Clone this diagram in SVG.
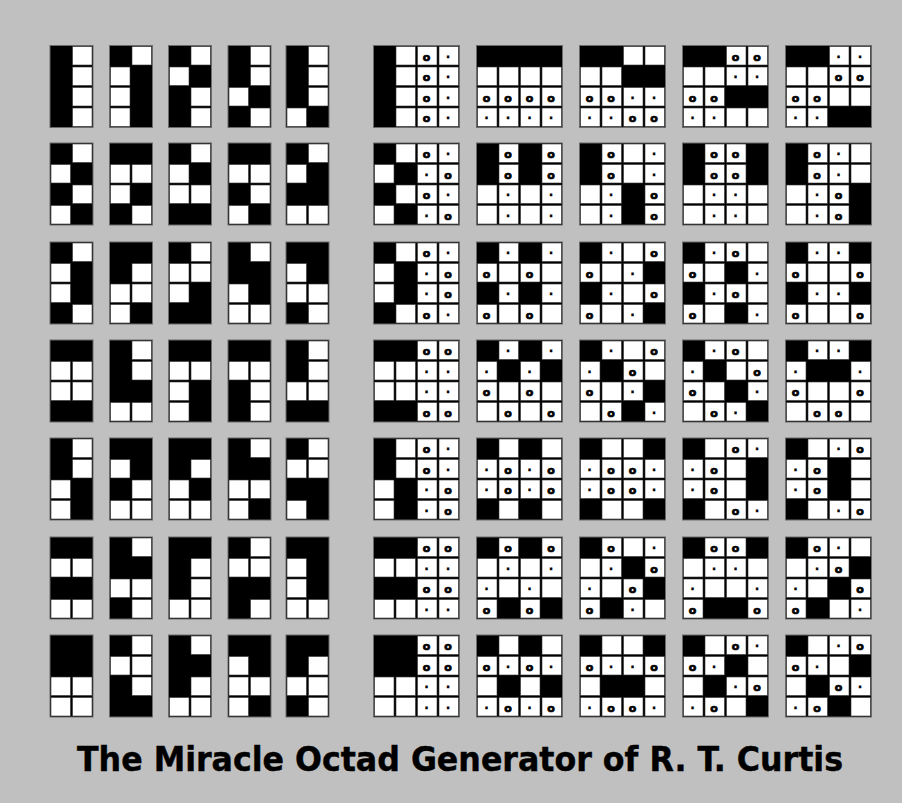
<svg xmlns="http://www.w3.org/2000/svg" xmlns:xlink="http://www.w3.org/1999/xlink" width="902" height="803" viewBox="0 0 902 803">
<style>
.g{fill:#000;stroke:#6a6a6a;stroke-width:1}
.o{font-family:"DejaVu Sans",Verdana,sans-serif;font-weight:bold;font-size:11px;text-anchor:middle;fill:#000;stroke:#000;stroke-width:0.7}
.d{font-family:"DejaVu Sans",Verdana,sans-serif;font-weight:bold;font-size:12px;text-anchor:middle;fill:#000;stroke:#000;stroke-width:0.3}
.t{font-family:"DejaVu Sans Condensed","DejaVu Sans",Verdana,sans-serif;font-weight:bold;font-size:33px;fill:#000;stroke:#000;stroke-width:0.4}
</style>
<defs>
<rect id="w" width="19.5" height="18.5" fill="#fff" stroke="#333" stroke-width="0.6"/>
</defs>
<rect width="902" height="803" fill="#c0c0c0"/>

<!-- left row 1 -->
<g id="L1-1" transform="translate(50,45.5)"><rect class="g" width="43" height="82"/><use href="#w" x="22.5" y="1"/><use href="#w" x="22.5" y="21.5"/><use href="#w" x="22.5" y="42"/><use href="#w" x="22.5" y="62.5"/></g>
<g id="L1-2" transform="translate(109.5,45.5)"><rect class="g" width="43" height="82"/><use href="#w" x="22.5" y="1"/><use href="#w" x="1" y="21.5"/><use href="#w" x="1" y="42"/><use href="#w" x="1" y="62.5"/></g>
<g id="L1-3" transform="translate(168.5,45.5)"><rect class="g" width="43" height="82"/><use href="#w" x="22.5" y="1"/><use href="#w" x="1" y="21.5"/><use href="#w" x="22.5" y="42"/><use href="#w" x="22.5" y="62.5"/></g>
<g id="L1-4" transform="translate(228,45.5)"><rect class="g" width="43" height="82"/><use href="#w" x="22.5" y="1"/><use href="#w" x="22.5" y="21.5"/><use href="#w" x="1" y="42"/><use href="#w" x="22.5" y="62.5"/></g>
<g id="L1-5" transform="translate(286,45.5)"><rect class="g" width="43" height="82"/><use href="#w" x="22.5" y="1"/><use href="#w" x="22.5" y="21.5"/><use href="#w" x="22.5" y="42"/><use href="#w" x="1" y="62.5"/></g>
<!-- left row 2 -->
<g id="L2-1" transform="translate(50,143)"><rect class="g" width="43" height="82"/><use href="#w" x="22.5" y="1"/><use href="#w" x="1" y="21.5"/><use href="#w" x="22.5" y="42"/><use href="#w" x="1" y="62.5"/></g>
<g id="L2-2" transform="translate(109.5,143)"><rect class="g" width="43" height="82"/><use href="#w" x="1" y="21.5"/><use href="#w" x="22.5" y="21.5"/><use href="#w" x="1" y="42"/><use href="#w" x="22.5" y="62.5"/></g>
<g id="L2-3" transform="translate(168.5,143)"><rect class="g" width="43" height="82"/><use href="#w" x="22.5" y="1"/><use href="#w" x="1" y="21.5"/><use href="#w" x="1" y="42"/><use href="#w" x="22.5" y="42"/></g>
<g id="L2-4" transform="translate(228,143)"><rect class="g" width="43" height="82"/><use href="#w" x="1" y="21.5"/><use href="#w" x="22.5" y="21.5"/><use href="#w" x="22.5" y="42"/><use href="#w" x="1" y="62.5"/></g>
<g id="L2-5" transform="translate(286,143)"><rect class="g" width="43" height="82"/><use href="#w" x="22.5" y="1"/><use href="#w" x="1" y="21.5"/><use href="#w" x="1" y="62.5"/><use href="#w" x="22.5" y="62.5"/></g>
<!-- left row 3 -->
<g id="L3-1" transform="translate(50,242)"><rect class="g" width="43" height="82"/><use href="#w" x="22.5" y="1"/><use href="#w" x="1" y="21.5"/><use href="#w" x="1" y="42"/><use href="#w" x="22.5" y="62.5"/></g>
<g id="L3-2" transform="translate(109.5,242)"><rect class="g" width="43" height="82"/><use href="#w" x="22.5" y="21.5"/><use href="#w" x="1" y="42"/><use href="#w" x="22.5" y="42"/><use href="#w" x="1" y="62.5"/></g>
<g id="L3-3" transform="translate(168.5,242)"><rect class="g" width="43" height="82"/><use href="#w" x="22.5" y="1"/><use href="#w" x="1" y="21.5"/><use href="#w" x="22.5" y="21.5"/><use href="#w" x="1" y="42"/></g>
<g id="L3-4" transform="translate(228,242)"><rect class="g" width="43" height="82"/><use href="#w" x="22.5" y="1"/><use href="#w" x="1" y="42"/><use href="#w" x="1" y="62.5"/><use href="#w" x="22.5" y="62.5"/></g>
<g id="L3-5" transform="translate(286,242)"><rect class="g" width="43" height="82"/><use href="#w" x="1" y="21.5"/><use href="#w" x="1" y="42"/><use href="#w" x="22.5" y="42"/><use href="#w" x="22.5" y="62.5"/></g>
<!-- left row 4 -->
<g id="L4-1" transform="translate(50,340)"><rect class="g" width="43" height="82"/><use href="#w" x="1" y="21.5"/><use href="#w" x="22.5" y="21.5"/><use href="#w" x="1" y="42"/><use href="#w" x="22.5" y="42"/></g>
<g id="L4-2" transform="translate(109.5,340)"><rect class="g" width="43" height="82"/><use href="#w" x="22.5" y="1"/><use href="#w" x="22.5" y="21.5"/><use href="#w" x="1" y="62.5"/><use href="#w" x="22.5" y="62.5"/></g>
<g id="L4-3" transform="translate(168.5,340)"><rect class="g" width="43" height="82"/><use href="#w" x="1" y="21.5"/><use href="#w" x="22.5" y="21.5"/><use href="#w" x="1" y="42"/><use href="#w" x="1" y="62.5"/></g>
<g id="L4-4" transform="translate(228,340)"><rect class="g" width="43" height="82"/><use href="#w" x="1" y="21.5"/><use href="#w" x="22.5" y="21.5"/><use href="#w" x="22.5" y="42"/><use href="#w" x="22.5" y="62.5"/></g>
<g id="L4-5" transform="translate(286,340)"><rect class="g" width="43" height="82"/><use href="#w" x="22.5" y="1"/><use href="#w" x="22.5" y="21.5"/><use href="#w" x="1" y="42"/><use href="#w" x="22.5" y="42"/></g>
<!-- left row 5 -->
<g id="L5-1" transform="translate(50,438)"><rect class="g" width="43" height="82"/><use href="#w" x="22.5" y="1"/><use href="#w" x="22.5" y="21.5"/><use href="#w" x="1" y="42"/><use href="#w" x="1" y="62.5"/></g>
<g id="L5-2" transform="translate(109.5,438)"><rect class="g" width="43" height="82"/><use href="#w" x="1" y="21.5"/><use href="#w" x="22.5" y="42"/><use href="#w" x="1" y="62.5"/><use href="#w" x="22.5" y="62.5"/></g>
<g id="L5-3" transform="translate(168.5,438)"><rect class="g" width="43" height="82"/><use href="#w" x="22.5" y="21.5"/><use href="#w" x="1" y="42"/><use href="#w" x="1" y="62.5"/><use href="#w" x="22.5" y="62.5"/></g>
<g id="L5-4" transform="translate(228,438)"><rect class="g" width="43" height="82"/><use href="#w" x="22.5" y="1"/><use href="#w" x="1" y="42"/><use href="#w" x="22.5" y="42"/><use href="#w" x="1" y="62.5"/></g>
<g id="L5-5" transform="translate(286,438)"><rect class="g" width="43" height="82"/><use href="#w" x="22.5" y="1"/><use href="#w" x="1" y="21.5"/><use href="#w" x="22.5" y="21.5"/><use href="#w" x="1" y="62.5"/></g>
<!-- left row 6 -->
<g id="L6-1" transform="translate(50,537)"><rect class="g" width="43" height="82"/><use href="#w" x="1" y="21.5"/><use href="#w" x="22.5" y="21.5"/><use href="#w" x="1" y="62.5"/><use href="#w" x="22.5" y="62.5"/></g>
<g id="L6-2" transform="translate(109.5,537)"><rect class="g" width="43" height="82"/><use href="#w" x="22.5" y="1"/><use href="#w" x="1" y="42"/><use href="#w" x="22.5" y="42"/><use href="#w" x="22.5" y="62.5"/></g>
<g id="L6-3" transform="translate(168.5,537)"><rect class="g" width="43" height="82"/><use href="#w" x="22.5" y="21.5"/><use href="#w" x="22.5" y="42"/><use href="#w" x="1" y="62.5"/><use href="#w" x="22.5" y="62.5"/></g>
<g id="L6-4" transform="translate(228,537)"><rect class="g" width="43" height="82"/><use href="#w" x="22.5" y="1"/><use href="#w" x="1" y="21.5"/><use href="#w" x="22.5" y="21.5"/><use href="#w" x="22.5" y="62.5"/></g>
<g id="L6-5" transform="translate(286,537)"><rect class="g" width="43" height="82"/><use href="#w" x="1" y="21.5"/><use href="#w" x="1" y="42"/><use href="#w" x="1" y="62.5"/><use href="#w" x="22.5" y="62.5"/></g>
<!-- left row 7 -->
<g id="L7-1" transform="translate(50,635)"><rect class="g" width="43" height="82"/><use href="#w" x="1" y="42"/><use href="#w" x="22.5" y="42"/><use href="#w" x="1" y="62.5"/><use href="#w" x="22.5" y="62.5"/></g>
<g id="L7-2" transform="translate(109.5,635)"><rect class="g" width="43" height="82"/><use href="#w" x="22.5" y="1"/><use href="#w" x="1" y="21.5"/><use href="#w" x="22.5" y="21.5"/><use href="#w" x="22.5" y="42"/></g>
<g id="L7-3" transform="translate(168.5,635)"><rect class="g" width="43" height="82"/><use href="#w" x="22.5" y="1"/><use href="#w" x="22.5" y="42"/><use href="#w" x="1" y="62.5"/><use href="#w" x="22.5" y="62.5"/></g>
<g id="L7-4" transform="translate(228,635)"><rect class="g" width="43" height="82"/><use href="#w" x="1" y="21.5"/><use href="#w" x="1" y="42"/><use href="#w" x="22.5" y="42"/><use href="#w" x="1" y="62.5"/></g>
<g id="L7-5" transform="translate(286,635)"><rect class="g" width="43" height="82"/><use href="#w" x="22.5" y="21.5"/><use href="#w" x="1" y="42"/><use href="#w" x="22.5" y="42"/><use href="#w" x="22.5" y="62.5"/></g>

<!-- right row 1 -->
<g id="M1-1" transform="translate(373.5,45.5)"><rect class="g" width="86" height="82"/>
<use href="#w" x="22.5" y="1"/><use href="#w" x="44" y="1"/><use href="#w" x="65.5" y="1"/><text class="o" x="53" y="15">o</text><text class="d" x="74.5" y="15">·</text>
<use href="#w" x="22.5" y="21.5"/><use href="#w" x="44" y="21.5"/><use href="#w" x="65.5" y="21.5"/><text class="o" x="53" y="35.5">o</text><text class="d" x="74.5" y="35.5">·</text>
<use href="#w" x="22.5" y="42"/><use href="#w" x="44" y="42"/><use href="#w" x="65.5" y="42"/><text class="o" x="53" y="56">o</text><text class="d" x="74.5" y="56">·</text>
<use href="#w" x="22.5" y="62.5"/><use href="#w" x="44" y="62.5"/><use href="#w" x="65.5" y="62.5"/><text class="o" x="53" y="76.5">o</text><text class="d" x="74.5" y="76.5">·</text></g>
<g id="M1-2" transform="translate(476.5,45.5)"><rect class="g" width="86" height="82"/>
<use href="#w" x="1" y="21.5"/><use href="#w" x="22.5" y="21.5"/><use href="#w" x="44" y="21.5"/><use href="#w" x="65.5" y="21.5"/>
<use href="#w" x="1" y="42"/><use href="#w" x="22.5" y="42"/><use href="#w" x="44" y="42"/><use href="#w" x="65.5" y="42"/><text class="o" x="10" y="56">o</text><text class="o" x="31.5" y="56">o</text><text class="o" x="53" y="56">o</text><text class="o" x="74.5" y="56">o</text>
<use href="#w" x="1" y="62.5"/><use href="#w" x="22.5" y="62.5"/><use href="#w" x="44" y="62.5"/><use href="#w" x="65.5" y="62.5"/><text class="d" x="10" y="76.5">·</text><text class="d" x="31.5" y="76.5">·</text><text class="d" x="53" y="76.5">·</text><text class="d" x="74.5" y="76.5">·</text></g>
<g id="M1-3" transform="translate(579.5,45.5)"><rect class="g" width="86" height="82"/>
<use href="#w" x="44" y="1"/><use href="#w" x="65.5" y="1"/>
<use href="#w" x="1" y="21.5"/><use href="#w" x="22.5" y="21.5"/>
<use href="#w" x="1" y="42"/><use href="#w" x="22.5" y="42"/><use href="#w" x="44" y="42"/><use href="#w" x="65.5" y="42"/><text class="o" x="10" y="56">o</text><text class="o" x="31.5" y="56">o</text><text class="d" x="53" y="56">·</text><text class="d" x="74.5" y="56">·</text>
<use href="#w" x="1" y="62.5"/><use href="#w" x="22.5" y="62.5"/><use href="#w" x="44" y="62.5"/><use href="#w" x="65.5" y="62.5"/><text class="d" x="10" y="76.5">·</text><text class="d" x="31.5" y="76.5">·</text><text class="o" x="53" y="76.5">o</text><text class="o" x="74.5" y="76.5">o</text></g>
<g id="M1-4" transform="translate(682.5,45.5)"><rect class="g" width="86" height="82"/>
<use href="#w" x="44" y="1"/><use href="#w" x="65.5" y="1"/><text class="o" x="53" y="15">o</text><text class="o" x="74.5" y="15">o</text>
<use href="#w" x="1" y="21.5"/><use href="#w" x="22.5" y="21.5"/><use href="#w" x="44" y="21.5"/><use href="#w" x="65.5" y="21.5"/><text class="d" x="53" y="35.5">·</text><text class="d" x="74.5" y="35.5">·</text>
<use href="#w" x="1" y="42"/><use href="#w" x="22.5" y="42"/><text class="o" x="10" y="56">o</text><text class="o" x="31.5" y="56">o</text>
<use href="#w" x="1" y="62.5"/><use href="#w" x="22.5" y="62.5"/><use href="#w" x="44" y="62.5"/><use href="#w" x="65.5" y="62.5"/><text class="d" x="10" y="76.5">·</text><text class="d" x="31.5" y="76.5">·</text></g>
<g id="M1-5" transform="translate(785.5,45.5)"><rect class="g" width="86" height="82"/>
<use href="#w" x="44" y="1"/><use href="#w" x="65.5" y="1"/><text class="d" x="53" y="15">·</text><text class="d" x="74.5" y="15">·</text>
<use href="#w" x="1" y="21.5"/><use href="#w" x="22.5" y="21.5"/><use href="#w" x="44" y="21.5"/><use href="#w" x="65.5" y="21.5"/><text class="o" x="53" y="35.5">o</text><text class="o" x="74.5" y="35.5">o</text>
<use href="#w" x="1" y="42"/><use href="#w" x="22.5" y="42"/><use href="#w" x="44" y="42"/><use href="#w" x="65.5" y="42"/><text class="o" x="10" y="56">o</text><text class="o" x="31.5" y="56">o</text>
<use href="#w" x="1" y="62.5"/><use href="#w" x="22.5" y="62.5"/><text class="d" x="10" y="76.5">·</text><text class="d" x="31.5" y="76.5">·</text></g>

<!-- right row 2 -->
<g id="M2-1" transform="translate(373.5,143)"><rect class="g" width="86" height="82"/>
<use href="#w" x="22.5" y="1"/><use href="#w" x="44" y="1"/><use href="#w" x="65.5" y="1"/><text class="o" x="53" y="15">o</text><text class="d" x="74.5" y="15">·</text>
<use href="#w" x="1" y="21.5"/><use href="#w" x="44" y="21.5"/><use href="#w" x="65.5" y="21.5"/><text class="d" x="53" y="35.5">·</text><text class="o" x="74.5" y="35.5">o</text>
<use href="#w" x="22.5" y="42"/><use href="#w" x="44" y="42"/><use href="#w" x="65.5" y="42"/><text class="o" x="53" y="56">o</text><text class="d" x="74.5" y="56">·</text>
<use href="#w" x="1" y="62.5"/><use href="#w" x="44" y="62.5"/><use href="#w" x="65.5" y="62.5"/><text class="d" x="53" y="76.5">·</text><text class="o" x="74.5" y="76.5">o</text></g>
<g id="M2-2" transform="translate(476.5,143)"><rect class="g" width="86" height="82"/>
<use href="#w" x="22.5" y="1"/><use href="#w" x="65.5" y="1"/><text class="o" x="31.5" y="15">o</text><text class="o" x="74.5" y="15">o</text>
<use href="#w" x="22.5" y="21.5"/><use href="#w" x="65.5" y="21.5"/><text class="o" x="31.5" y="35.5">o</text><text class="o" x="74.5" y="35.5">o</text>
<use href="#w" x="1" y="42"/><use href="#w" x="22.5" y="42"/><use href="#w" x="44" y="42"/><use href="#w" x="65.5" y="42"/><text class="d" x="31.5" y="56">·</text><text class="d" x="74.5" y="56">·</text>
<use href="#w" x="1" y="62.5"/><use href="#w" x="22.5" y="62.5"/><use href="#w" x="44" y="62.5"/><use href="#w" x="65.5" y="62.5"/><text class="d" x="31.5" y="76.5">·</text><text class="d" x="74.5" y="76.5">·</text></g>
<g id="M2-3" transform="translate(579.5,143)"><rect class="g" width="86" height="82"/>
<use href="#w" x="22.5" y="1"/><use href="#w" x="44" y="1"/><use href="#w" x="65.5" y="1"/><text class="o" x="31.5" y="15">o</text><text class="d" x="74.5" y="15">·</text>
<use href="#w" x="22.5" y="21.5"/><use href="#w" x="44" y="21.5"/><use href="#w" x="65.5" y="21.5"/><text class="o" x="31.5" y="35.5">o</text><text class="d" x="74.5" y="35.5">·</text>
<use href="#w" x="1" y="42"/><use href="#w" x="22.5" y="42"/><use href="#w" x="65.5" y="42"/><text class="d" x="31.5" y="56">·</text><text class="o" x="74.5" y="56">o</text>
<use href="#w" x="1" y="62.5"/><use href="#w" x="22.5" y="62.5"/><use href="#w" x="65.5" y="62.5"/><text class="d" x="31.5" y="76.5">·</text><text class="o" x="74.5" y="76.5">o</text></g>
<g id="M2-4" transform="translate(682.5,143)"><rect class="g" width="86" height="82"/>
<use href="#w" x="22.5" y="1"/><use href="#w" x="44" y="1"/><text class="o" x="31.5" y="15">o</text><text class="o" x="53" y="15">o</text>
<use href="#w" x="22.5" y="21.5"/><use href="#w" x="44" y="21.5"/><text class="o" x="31.5" y="35.5">o</text><text class="o" x="53" y="35.5">o</text>
<use href="#w" x="1" y="42"/><use href="#w" x="22.5" y="42"/><use href="#w" x="44" y="42"/><use href="#w" x="65.5" y="42"/><text class="d" x="31.5" y="56">·</text><text class="d" x="53" y="56">·</text>
<use href="#w" x="1" y="62.5"/><use href="#w" x="22.5" y="62.5"/><use href="#w" x="44" y="62.5"/><use href="#w" x="65.5" y="62.5"/><text class="d" x="31.5" y="76.5">·</text><text class="d" x="53" y="76.5">·</text></g>
<g id="M2-5" transform="translate(785.5,143)"><rect class="g" width="86" height="82"/>
<use href="#w" x="22.5" y="1"/><use href="#w" x="44" y="1"/><use href="#w" x="65.5" y="1"/><text class="o" x="31.5" y="15">o</text><text class="d" x="53" y="15">·</text>
<use href="#w" x="22.5" y="21.5"/><use href="#w" x="44" y="21.5"/><use href="#w" x="65.5" y="21.5"/><text class="o" x="31.5" y="35.5">o</text><text class="d" x="53" y="35.5">·</text>
<use href="#w" x="1" y="42"/><use href="#w" x="22.5" y="42"/><use href="#w" x="44" y="42"/><text class="d" x="31.5" y="56">·</text><text class="o" x="53" y="56">o</text>
<use href="#w" x="1" y="62.5"/><use href="#w" x="22.5" y="62.5"/><use href="#w" x="44" y="62.5"/><text class="d" x="31.5" y="76.5">·</text><text class="o" x="53" y="76.5">o</text></g>

<!-- right row 3 -->
<g id="M3-1" transform="translate(373.5,242)"><rect class="g" width="86" height="82"/>
<use href="#w" x="22.5" y="1"/><use href="#w" x="44" y="1"/><use href="#w" x="65.5" y="1"/><text class="o" x="53" y="15">o</text><text class="d" x="74.5" y="15">·</text>
<use href="#w" x="1" y="21.5"/><use href="#w" x="44" y="21.5"/><use href="#w" x="65.5" y="21.5"/><text class="d" x="53" y="35.5">·</text><text class="o" x="74.5" y="35.5">o</text>
<use href="#w" x="1" y="42"/><use href="#w" x="44" y="42"/><use href="#w" x="65.5" y="42"/><text class="d" x="53" y="56">·</text><text class="o" x="74.5" y="56">o</text>
<use href="#w" x="22.5" y="62.5"/><use href="#w" x="44" y="62.5"/><use href="#w" x="65.5" y="62.5"/><text class="o" x="53" y="76.5">o</text><text class="d" x="74.5" y="76.5">·</text></g>
<g id="M3-2" transform="translate(476.5,242)"><rect class="g" width="86" height="82"/>
<use href="#w" x="22.5" y="1"/><use href="#w" x="65.5" y="1"/><text class="d" x="31.5" y="15">·</text><text class="d" x="74.5" y="15">·</text>
<use href="#w" x="1" y="21.5"/><use href="#w" x="22.5" y="21.5"/><use href="#w" x="44" y="21.5"/><use href="#w" x="65.5" y="21.5"/><text class="o" x="10" y="35.5">o</text><text class="o" x="53" y="35.5">o</text>
<use href="#w" x="22.5" y="42"/><use href="#w" x="65.5" y="42"/><text class="d" x="31.5" y="56">·</text><text class="d" x="74.5" y="56">·</text>
<use href="#w" x="1" y="62.5"/><use href="#w" x="22.5" y="62.5"/><use href="#w" x="44" y="62.5"/><use href="#w" x="65.5" y="62.5"/><text class="o" x="10" y="76.5">o</text><text class="o" x="53" y="76.5">o</text></g>
<g id="M3-3" transform="translate(579.5,242)"><rect class="g" width="86" height="82"/>
<use href="#w" x="22.5" y="1"/><use href="#w" x="44" y="1"/><use href="#w" x="65.5" y="1"/><text class="d" x="31.5" y="15">·</text><text class="o" x="74.5" y="15">o</text>
<use href="#w" x="1" y="21.5"/><use href="#w" x="22.5" y="21.5"/><use href="#w" x="44" y="21.5"/><text class="o" x="10" y="35.5">o</text><text class="d" x="53" y="35.5">·</text>
<use href="#w" x="22.5" y="42"/><use href="#w" x="44" y="42"/><use href="#w" x="65.5" y="42"/><text class="d" x="31.5" y="56">·</text><text class="o" x="74.5" y="56">o</text>
<use href="#w" x="1" y="62.5"/><use href="#w" x="22.5" y="62.5"/><use href="#w" x="44" y="62.5"/><text class="o" x="10" y="76.5">o</text><text class="d" x="53" y="76.5">·</text></g>
<g id="M3-4" transform="translate(682.5,242)"><rect class="g" width="86" height="82"/>
<use href="#w" x="22.5" y="1"/><use href="#w" x="44" y="1"/><use href="#w" x="65.5" y="1"/><text class="d" x="31.5" y="15">·</text><text class="o" x="53" y="15">o</text>
<use href="#w" x="1" y="21.5"/><use href="#w" x="22.5" y="21.5"/><use href="#w" x="65.5" y="21.5"/><text class="o" x="10" y="35.5">o</text><text class="d" x="74.5" y="35.5">·</text>
<use href="#w" x="22.5" y="42"/><use href="#w" x="44" y="42"/><use href="#w" x="65.5" y="42"/><text class="d" x="31.5" y="56">·</text><text class="o" x="53" y="56">o</text>
<use href="#w" x="1" y="62.5"/><use href="#w" x="22.5" y="62.5"/><use href="#w" x="65.5" y="62.5"/><text class="o" x="10" y="76.5">o</text><text class="d" x="74.5" y="76.5">·</text></g>
<g id="M3-5" transform="translate(785.5,242)"><rect class="g" width="86" height="82"/>
<use href="#w" x="22.5" y="1"/><use href="#w" x="44" y="1"/><text class="d" x="31.5" y="15">·</text><text class="d" x="53" y="15">·</text>
<use href="#w" x="1" y="21.5"/><use href="#w" x="22.5" y="21.5"/><use href="#w" x="44" y="21.5"/><use href="#w" x="65.5" y="21.5"/><text class="o" x="10" y="35.5">o</text><text class="o" x="74.5" y="35.5">o</text>
<use href="#w" x="22.5" y="42"/><use href="#w" x="44" y="42"/><text class="d" x="31.5" y="56">·</text><text class="d" x="53" y="56">·</text>
<use href="#w" x="1" y="62.5"/><use href="#w" x="22.5" y="62.5"/><use href="#w" x="44" y="62.5"/><use href="#w" x="65.5" y="62.5"/><text class="o" x="10" y="76.5">o</text><text class="o" x="74.5" y="76.5">o</text></g>

<!-- right row 4 -->
<g id="M4-1" transform="translate(373.5,340)"><rect class="g" width="86" height="82"/>
<use href="#w" x="44" y="1"/><use href="#w" x="65.5" y="1"/><text class="o" x="53" y="15">o</text><text class="o" x="74.5" y="15">o</text>
<use href="#w" x="1" y="21.5"/><use href="#w" x="22.5" y="21.5"/><use href="#w" x="44" y="21.5"/><use href="#w" x="65.5" y="21.5"/><text class="d" x="53" y="35.5">·</text><text class="d" x="74.5" y="35.5">·</text>
<use href="#w" x="1" y="42"/><use href="#w" x="22.5" y="42"/><use href="#w" x="44" y="42"/><use href="#w" x="65.5" y="42"/><text class="d" x="53" y="56">·</text><text class="d" x="74.5" y="56">·</text>
<use href="#w" x="44" y="62.5"/><use href="#w" x="65.5" y="62.5"/><text class="o" x="53" y="76.5">o</text><text class="o" x="74.5" y="76.5">o</text></g>
<g id="M4-2" transform="translate(476.5,340)"><rect class="g" width="86" height="82"/>
<use href="#w" x="22.5" y="1"/><use href="#w" x="65.5" y="1"/><text class="d" x="31.5" y="15">·</text><text class="d" x="74.5" y="15">·</text>
<use href="#w" x="1" y="21.5"/><use href="#w" x="44" y="21.5"/><text class="d" x="10" y="35.5">·</text><text class="d" x="53" y="35.5">·</text>
<use href="#w" x="1" y="42"/><use href="#w" x="22.5" y="42"/><use href="#w" x="44" y="42"/><use href="#w" x="65.5" y="42"/><text class="o" x="10" y="56">o</text><text class="o" x="53" y="56">o</text>
<use href="#w" x="1" y="62.5"/><use href="#w" x="22.5" y="62.5"/><use href="#w" x="44" y="62.5"/><use href="#w" x="65.5" y="62.5"/><text class="o" x="31.5" y="76.5">o</text><text class="o" x="74.5" y="76.5">o</text></g>
<g id="M4-3" transform="translate(579.5,340)"><rect class="g" width="86" height="82"/>
<use href="#w" x="22.5" y="1"/><use href="#w" x="44" y="1"/><use href="#w" x="65.5" y="1"/><text class="d" x="31.5" y="15">·</text><text class="o" x="74.5" y="15">o</text>
<use href="#w" x="1" y="21.5"/><use href="#w" x="44" y="21.5"/><use href="#w" x="65.5" y="21.5"/><text class="d" x="10" y="35.5">·</text><text class="o" x="53" y="35.5">o</text>
<use href="#w" x="1" y="42"/><use href="#w" x="22.5" y="42"/><use href="#w" x="44" y="42"/><text class="o" x="10" y="56">o</text><text class="d" x="53" y="56">·</text>
<use href="#w" x="1" y="62.5"/><use href="#w" x="22.5" y="62.5"/><use href="#w" x="65.5" y="62.5"/><text class="o" x="31.5" y="76.5">o</text><text class="d" x="74.5" y="76.5">·</text></g>
<g id="M4-4" transform="translate(682.5,340)"><rect class="g" width="86" height="82"/>
<use href="#w" x="22.5" y="1"/><use href="#w" x="44" y="1"/><use href="#w" x="65.5" y="1"/><text class="d" x="31.5" y="15">·</text><text class="o" x="53" y="15">o</text>
<use href="#w" x="1" y="21.5"/><use href="#w" x="44" y="21.5"/><use href="#w" x="65.5" y="21.5"/><text class="d" x="10" y="35.5">·</text><text class="o" x="74.5" y="35.5">o</text>
<use href="#w" x="1" y="42"/><use href="#w" x="22.5" y="42"/><use href="#w" x="65.5" y="42"/><text class="o" x="10" y="56">o</text><text class="d" x="74.5" y="56">·</text>
<use href="#w" x="1" y="62.5"/><use href="#w" x="22.5" y="62.5"/><use href="#w" x="44" y="62.5"/><text class="o" x="31.5" y="76.5">o</text><text class="d" x="53" y="76.5">·</text></g>
<g id="M4-5" transform="translate(785.5,340)"><rect class="g" width="86" height="82"/>
<use href="#w" x="22.5" y="1"/><use href="#w" x="44" y="1"/><text class="d" x="31.5" y="15">·</text><text class="d" x="53" y="15">·</text>
<use href="#w" x="1" y="21.5"/><use href="#w" x="65.5" y="21.5"/><text class="d" x="10" y="35.5">·</text><text class="d" x="74.5" y="35.5">·</text>
<use href="#w" x="1" y="42"/><use href="#w" x="22.5" y="42"/><use href="#w" x="44" y="42"/><use href="#w" x="65.5" y="42"/><text class="o" x="10" y="56">o</text><text class="o" x="74.5" y="56">o</text>
<use href="#w" x="1" y="62.5"/><use href="#w" x="22.5" y="62.5"/><use href="#w" x="44" y="62.5"/><use href="#w" x="65.5" y="62.5"/><text class="o" x="31.5" y="76.5">o</text><text class="o" x="53" y="76.5">o</text></g>

<!-- right row 5 -->
<g id="M5-1" transform="translate(373.5,438)"><rect class="g" width="86" height="82"/>
<use href="#w" x="22.5" y="1"/><use href="#w" x="44" y="1"/><use href="#w" x="65.5" y="1"/><text class="o" x="53" y="15">o</text><text class="d" x="74.5" y="15">·</text>
<use href="#w" x="22.5" y="21.5"/><use href="#w" x="44" y="21.5"/><use href="#w" x="65.5" y="21.5"/><text class="o" x="53" y="35.5">o</text><text class="d" x="74.5" y="35.5">·</text>
<use href="#w" x="1" y="42"/><use href="#w" x="44" y="42"/><use href="#w" x="65.5" y="42"/><text class="d" x="53" y="56">·</text><text class="o" x="74.5" y="56">o</text>
<use href="#w" x="1" y="62.5"/><use href="#w" x="44" y="62.5"/><use href="#w" x="65.5" y="62.5"/><text class="d" x="53" y="76.5">·</text><text class="o" x="74.5" y="76.5">o</text></g>
<g id="M5-2" transform="translate(476.5,438)"><rect class="g" width="86" height="82"/>
<use href="#w" x="22.5" y="1"/><use href="#w" x="65.5" y="1"/>
<use href="#w" x="1" y="21.5"/><use href="#w" x="22.5" y="21.5"/><use href="#w" x="44" y="21.5"/><use href="#w" x="65.5" y="21.5"/><text class="d" x="10" y="35.5">·</text><text class="o" x="31.5" y="35.5">o</text><text class="d" x="53" y="35.5">·</text><text class="o" x="74.5" y="35.5">o</text>
<use href="#w" x="1" y="42"/><use href="#w" x="22.5" y="42"/><use href="#w" x="44" y="42"/><use href="#w" x="65.5" y="42"/><text class="d" x="10" y="56">·</text><text class="o" x="31.5" y="56">o</text><text class="d" x="53" y="56">·</text><text class="o" x="74.5" y="56">o</text>
<use href="#w" x="22.5" y="62.5"/><use href="#w" x="65.5" y="62.5"/></g>
<g id="M5-3" transform="translate(579.5,438)"><rect class="g" width="86" height="82"/>
<use href="#w" x="22.5" y="1"/><use href="#w" x="44" y="1"/>
<use href="#w" x="1" y="21.5"/><use href="#w" x="22.5" y="21.5"/><use href="#w" x="44" y="21.5"/><use href="#w" x="65.5" y="21.5"/><text class="d" x="10" y="35.5">·</text><text class="o" x="31.5" y="35.5">o</text><text class="o" x="53" y="35.5">o</text><text class="d" x="74.5" y="35.5">·</text>
<use href="#w" x="1" y="42"/><use href="#w" x="22.5" y="42"/><use href="#w" x="44" y="42"/><use href="#w" x="65.5" y="42"/><text class="d" x="10" y="56">·</text><text class="o" x="31.5" y="56">o</text><text class="o" x="53" y="56">o</text><text class="d" x="74.5" y="56">·</text>
<use href="#w" x="22.5" y="62.5"/><use href="#w" x="44" y="62.5"/></g>
<g id="M5-4" transform="translate(682.5,438)"><rect class="g" width="86" height="82"/>
<use href="#w" x="22.5" y="1"/><use href="#w" x="44" y="1"/><use href="#w" x="65.5" y="1"/><text class="o" x="53" y="15">o</text><text class="d" x="74.5" y="15">·</text>
<use href="#w" x="1" y="21.5"/><use href="#w" x="22.5" y="21.5"/><use href="#w" x="44" y="21.5"/><text class="d" x="10" y="35.5">·</text><text class="o" x="31.5" y="35.5">o</text>
<use href="#w" x="1" y="42"/><use href="#w" x="22.5" y="42"/><use href="#w" x="44" y="42"/><text class="d" x="10" y="56">·</text><text class="o" x="31.5" y="56">o</text>
<use href="#w" x="22.5" y="62.5"/><use href="#w" x="44" y="62.5"/><use href="#w" x="65.5" y="62.5"/><text class="o" x="53" y="76.5">o</text><text class="d" x="74.5" y="76.5">·</text></g>
<g id="M5-5" transform="translate(785.5,438)"><rect class="g" width="86" height="82"/>
<use href="#w" x="22.5" y="1"/><use href="#w" x="44" y="1"/><use href="#w" x="65.5" y="1"/><text class="d" x="53" y="15">·</text><text class="o" x="74.5" y="15">o</text>
<use href="#w" x="1" y="21.5"/><use href="#w" x="22.5" y="21.5"/><use href="#w" x="65.5" y="21.5"/><text class="d" x="10" y="35.5">·</text><text class="o" x="31.5" y="35.5">o</text>
<use href="#w" x="1" y="42"/><use href="#w" x="22.5" y="42"/><use href="#w" x="65.5" y="42"/><text class="d" x="10" y="56">·</text><text class="o" x="31.5" y="56">o</text>
<use href="#w" x="22.5" y="62.5"/><use href="#w" x="44" y="62.5"/><use href="#w" x="65.5" y="62.5"/><text class="d" x="53" y="76.5">·</text><text class="o" x="74.5" y="76.5">o</text></g>

<!-- right row 6 -->
<g id="M6-1" transform="translate(373.5,537)"><rect class="g" width="86" height="82"/>
<use href="#w" x="44" y="1"/><use href="#w" x="65.5" y="1"/><text class="o" x="53" y="15">o</text><text class="o" x="74.5" y="15">o</text>
<use href="#w" x="1" y="21.5"/><use href="#w" x="22.5" y="21.5"/><use href="#w" x="44" y="21.5"/><use href="#w" x="65.5" y="21.5"/><text class="d" x="53" y="35.5">·</text><text class="d" x="74.5" y="35.5">·</text>
<use href="#w" x="44" y="42"/><use href="#w" x="65.5" y="42"/><text class="o" x="53" y="56">o</text><text class="o" x="74.5" y="56">o</text>
<use href="#w" x="1" y="62.5"/><use href="#w" x="22.5" y="62.5"/><use href="#w" x="44" y="62.5"/><use href="#w" x="65.5" y="62.5"/><text class="d" x="53" y="76.5">·</text><text class="d" x="74.5" y="76.5">·</text></g>
<g id="M6-2" transform="translate(476.5,537)"><rect class="g" width="86" height="82"/>
<use href="#w" x="22.5" y="1"/><use href="#w" x="65.5" y="1"/><text class="o" x="31.5" y="15">o</text><text class="o" x="74.5" y="15">o</text>
<use href="#w" x="1" y="21.5"/><use href="#w" x="22.5" y="21.5"/><use href="#w" x="44" y="21.5"/><use href="#w" x="65.5" y="21.5"/><text class="d" x="31.5" y="35.5">·</text><text class="d" x="74.5" y="35.5">·</text>
<use href="#w" x="1" y="42"/><use href="#w" x="22.5" y="42"/><use href="#w" x="44" y="42"/><use href="#w" x="65.5" y="42"/><text class="d" x="10" y="56">·</text><text class="d" x="53" y="56">·</text>
<use href="#w" x="1" y="62.5"/><use href="#w" x="44" y="62.5"/><text class="o" x="10" y="76.5">o</text><text class="o" x="53" y="76.5">o</text></g>
<g id="M6-3" transform="translate(579.5,537)"><rect class="g" width="86" height="82"/>
<use href="#w" x="22.5" y="1"/><use href="#w" x="44" y="1"/><use href="#w" x="65.5" y="1"/><text class="o" x="31.5" y="15">o</text><text class="d" x="74.5" y="15">·</text>
<use href="#w" x="1" y="21.5"/><use href="#w" x="22.5" y="21.5"/><use href="#w" x="65.5" y="21.5"/><text class="d" x="31.5" y="35.5">·</text><text class="o" x="74.5" y="35.5">o</text>
<use href="#w" x="1" y="42"/><use href="#w" x="22.5" y="42"/><use href="#w" x="44" y="42"/><text class="d" x="10" y="56">·</text><text class="o" x="53" y="56">o</text>
<use href="#w" x="1" y="62.5"/><use href="#w" x="44" y="62.5"/><use href="#w" x="65.5" y="62.5"/><text class="o" x="10" y="76.5">o</text><text class="d" x="53" y="76.5">·</text></g>
<g id="M6-4" transform="translate(682.5,537)"><rect class="g" width="86" height="82"/>
<use href="#w" x="22.5" y="1"/><use href="#w" x="44" y="1"/><text class="o" x="31.5" y="15">o</text><text class="o" x="53" y="15">o</text>
<use href="#w" x="1" y="21.5"/><use href="#w" x="22.5" y="21.5"/><use href="#w" x="44" y="21.5"/><use href="#w" x="65.5" y="21.5"/><text class="d" x="31.5" y="35.5">·</text><text class="d" x="53" y="35.5">·</text>
<use href="#w" x="1" y="42"/><use href="#w" x="22.5" y="42"/><use href="#w" x="44" y="42"/><use href="#w" x="65.5" y="42"/><text class="d" x="10" y="56">·</text><text class="d" x="74.5" y="56">·</text>
<use href="#w" x="1" y="62.5"/><use href="#w" x="65.5" y="62.5"/><text class="o" x="10" y="76.5">o</text><text class="o" x="74.5" y="76.5">o</text></g>
<g id="M6-5" transform="translate(785.5,537)"><rect class="g" width="86" height="82"/>
<use href="#w" x="22.5" y="1"/><use href="#w" x="44" y="1"/><use href="#w" x="65.5" y="1"/><text class="o" x="31.5" y="15">o</text><text class="d" x="53" y="15">·</text>
<use href="#w" x="1" y="21.5"/><use href="#w" x="22.5" y="21.5"/><use href="#w" x="44" y="21.5"/><text class="d" x="31.5" y="35.5">·</text><text class="o" x="53" y="35.5">o</text>
<use href="#w" x="1" y="42"/><use href="#w" x="22.5" y="42"/><use href="#w" x="65.5" y="42"/><text class="d" x="10" y="56">·</text><text class="o" x="74.5" y="56">o</text>
<use href="#w" x="1" y="62.5"/><use href="#w" x="44" y="62.5"/><use href="#w" x="65.5" y="62.5"/><text class="o" x="10" y="76.5">o</text><text class="d" x="74.5" y="76.5">·</text></g>

<!-- right row 7 -->
<g id="M7-1" transform="translate(373.5,635)"><rect class="g" width="86" height="82"/>
<use href="#w" x="44" y="1"/><use href="#w" x="65.5" y="1"/><text class="o" x="53" y="15">o</text><text class="o" x="74.5" y="15">o</text>
<use href="#w" x="44" y="21.5"/><use href="#w" x="65.5" y="21.5"/><text class="o" x="53" y="35.5">o</text><text class="o" x="74.5" y="35.5">o</text>
<use href="#w" x="1" y="42"/><use href="#w" x="22.5" y="42"/><use href="#w" x="44" y="42"/><use href="#w" x="65.5" y="42"/><text class="d" x="53" y="56">·</text><text class="d" x="74.5" y="56">·</text>
<use href="#w" x="1" y="62.5"/><use href="#w" x="22.5" y="62.5"/><use href="#w" x="44" y="62.5"/><use href="#w" x="65.5" y="62.5"/><text class="d" x="53" y="76.5">·</text><text class="d" x="74.5" y="76.5">·</text></g>
<g id="M7-2" transform="translate(476.5,635)"><rect class="g" width="86" height="82"/>
<use href="#w" x="22.5" y="1"/><use href="#w" x="65.5" y="1"/>
<use href="#w" x="1" y="21.5"/><use href="#w" x="22.5" y="21.5"/><use href="#w" x="44" y="21.5"/><use href="#w" x="65.5" y="21.5"/><text class="o" x="10" y="35.5">o</text><text class="d" x="31.5" y="35.5">·</text><text class="o" x="53" y="35.5">o</text><text class="d" x="74.5" y="35.5">·</text>
<use href="#w" x="1" y="42"/><use href="#w" x="44" y="42"/>
<use href="#w" x="1" y="62.5"/><use href="#w" x="22.5" y="62.5"/><use href="#w" x="44" y="62.5"/><use href="#w" x="65.5" y="62.5"/><text class="d" x="10" y="76.5">·</text><text class="o" x="31.5" y="76.5">o</text><text class="d" x="53" y="76.5">·</text><text class="o" x="74.5" y="76.5">o</text></g>
<g id="M7-3" transform="translate(579.5,635)"><rect class="g" width="86" height="82"/>
<use href="#w" x="22.5" y="1"/><use href="#w" x="44" y="1"/>
<use href="#w" x="1" y="21.5"/><use href="#w" x="22.5" y="21.5"/><use href="#w" x="44" y="21.5"/><use href="#w" x="65.5" y="21.5"/><text class="o" x="10" y="35.5">o</text><text class="d" x="31.5" y="35.5">·</text><text class="d" x="53" y="35.5">·</text><text class="o" x="74.5" y="35.5">o</text>
<use href="#w" x="1" y="42"/><use href="#w" x="65.5" y="42"/>
<use href="#w" x="1" y="62.5"/><use href="#w" x="22.5" y="62.5"/><use href="#w" x="44" y="62.5"/><use href="#w" x="65.5" y="62.5"/><text class="d" x="10" y="76.5">·</text><text class="o" x="31.5" y="76.5">o</text><text class="o" x="53" y="76.5">o</text><text class="d" x="74.5" y="76.5">·</text></g>
<g id="M7-4" transform="translate(682.5,635)"><rect class="g" width="86" height="82"/>
<use href="#w" x="22.5" y="1"/><use href="#w" x="44" y="1"/><use href="#w" x="65.5" y="1"/><text class="o" x="53" y="15">o</text><text class="d" x="74.5" y="15">·</text>
<use href="#w" x="1" y="21.5"/><use href="#w" x="22.5" y="21.5"/><use href="#w" x="65.5" y="21.5"/><text class="o" x="10" y="35.5">o</text><text class="d" x="31.5" y="35.5">·</text>
<use href="#w" x="1" y="42"/><use href="#w" x="44" y="42"/><use href="#w" x="65.5" y="42"/><text class="d" x="53" y="56">·</text><text class="o" x="74.5" y="56">o</text>
<use href="#w" x="1" y="62.5"/><use href="#w" x="22.5" y="62.5"/><use href="#w" x="44" y="62.5"/><text class="d" x="10" y="76.5">·</text><text class="o" x="31.5" y="76.5">o</text></g>
<g id="M7-5" transform="translate(785.5,635)"><rect class="g" width="86" height="82"/>
<use href="#w" x="22.5" y="1"/><use href="#w" x="44" y="1"/><use href="#w" x="65.5" y="1"/><text class="d" x="53" y="15">·</text><text class="o" x="74.5" y="15">o</text>
<use href="#w" x="1" y="21.5"/><use href="#w" x="22.5" y="21.5"/><use href="#w" x="44" y="21.5"/><text class="o" x="10" y="35.5">o</text><text class="d" x="31.5" y="35.5">·</text>
<use href="#w" x="1" y="42"/><use href="#w" x="44" y="42"/><use href="#w" x="65.5" y="42"/><text class="o" x="53" y="56">o</text><text class="d" x="74.5" y="56">·</text>
<use href="#w" x="1" y="62.5"/><use href="#w" x="22.5" y="62.5"/><use href="#w" x="65.5" y="62.5"/><text class="d" x="10" y="76.5">·</text><text class="o" x="31.5" y="76.5">o</text></g>

<g id="connectors"/>
<text id="title" class="t" x="460" y="771" text-anchor="middle" textLength="766" lengthAdjust="spacingAndGlyphs">The Miracle Octad Generator of R. T. Curtis</text>
</svg>
